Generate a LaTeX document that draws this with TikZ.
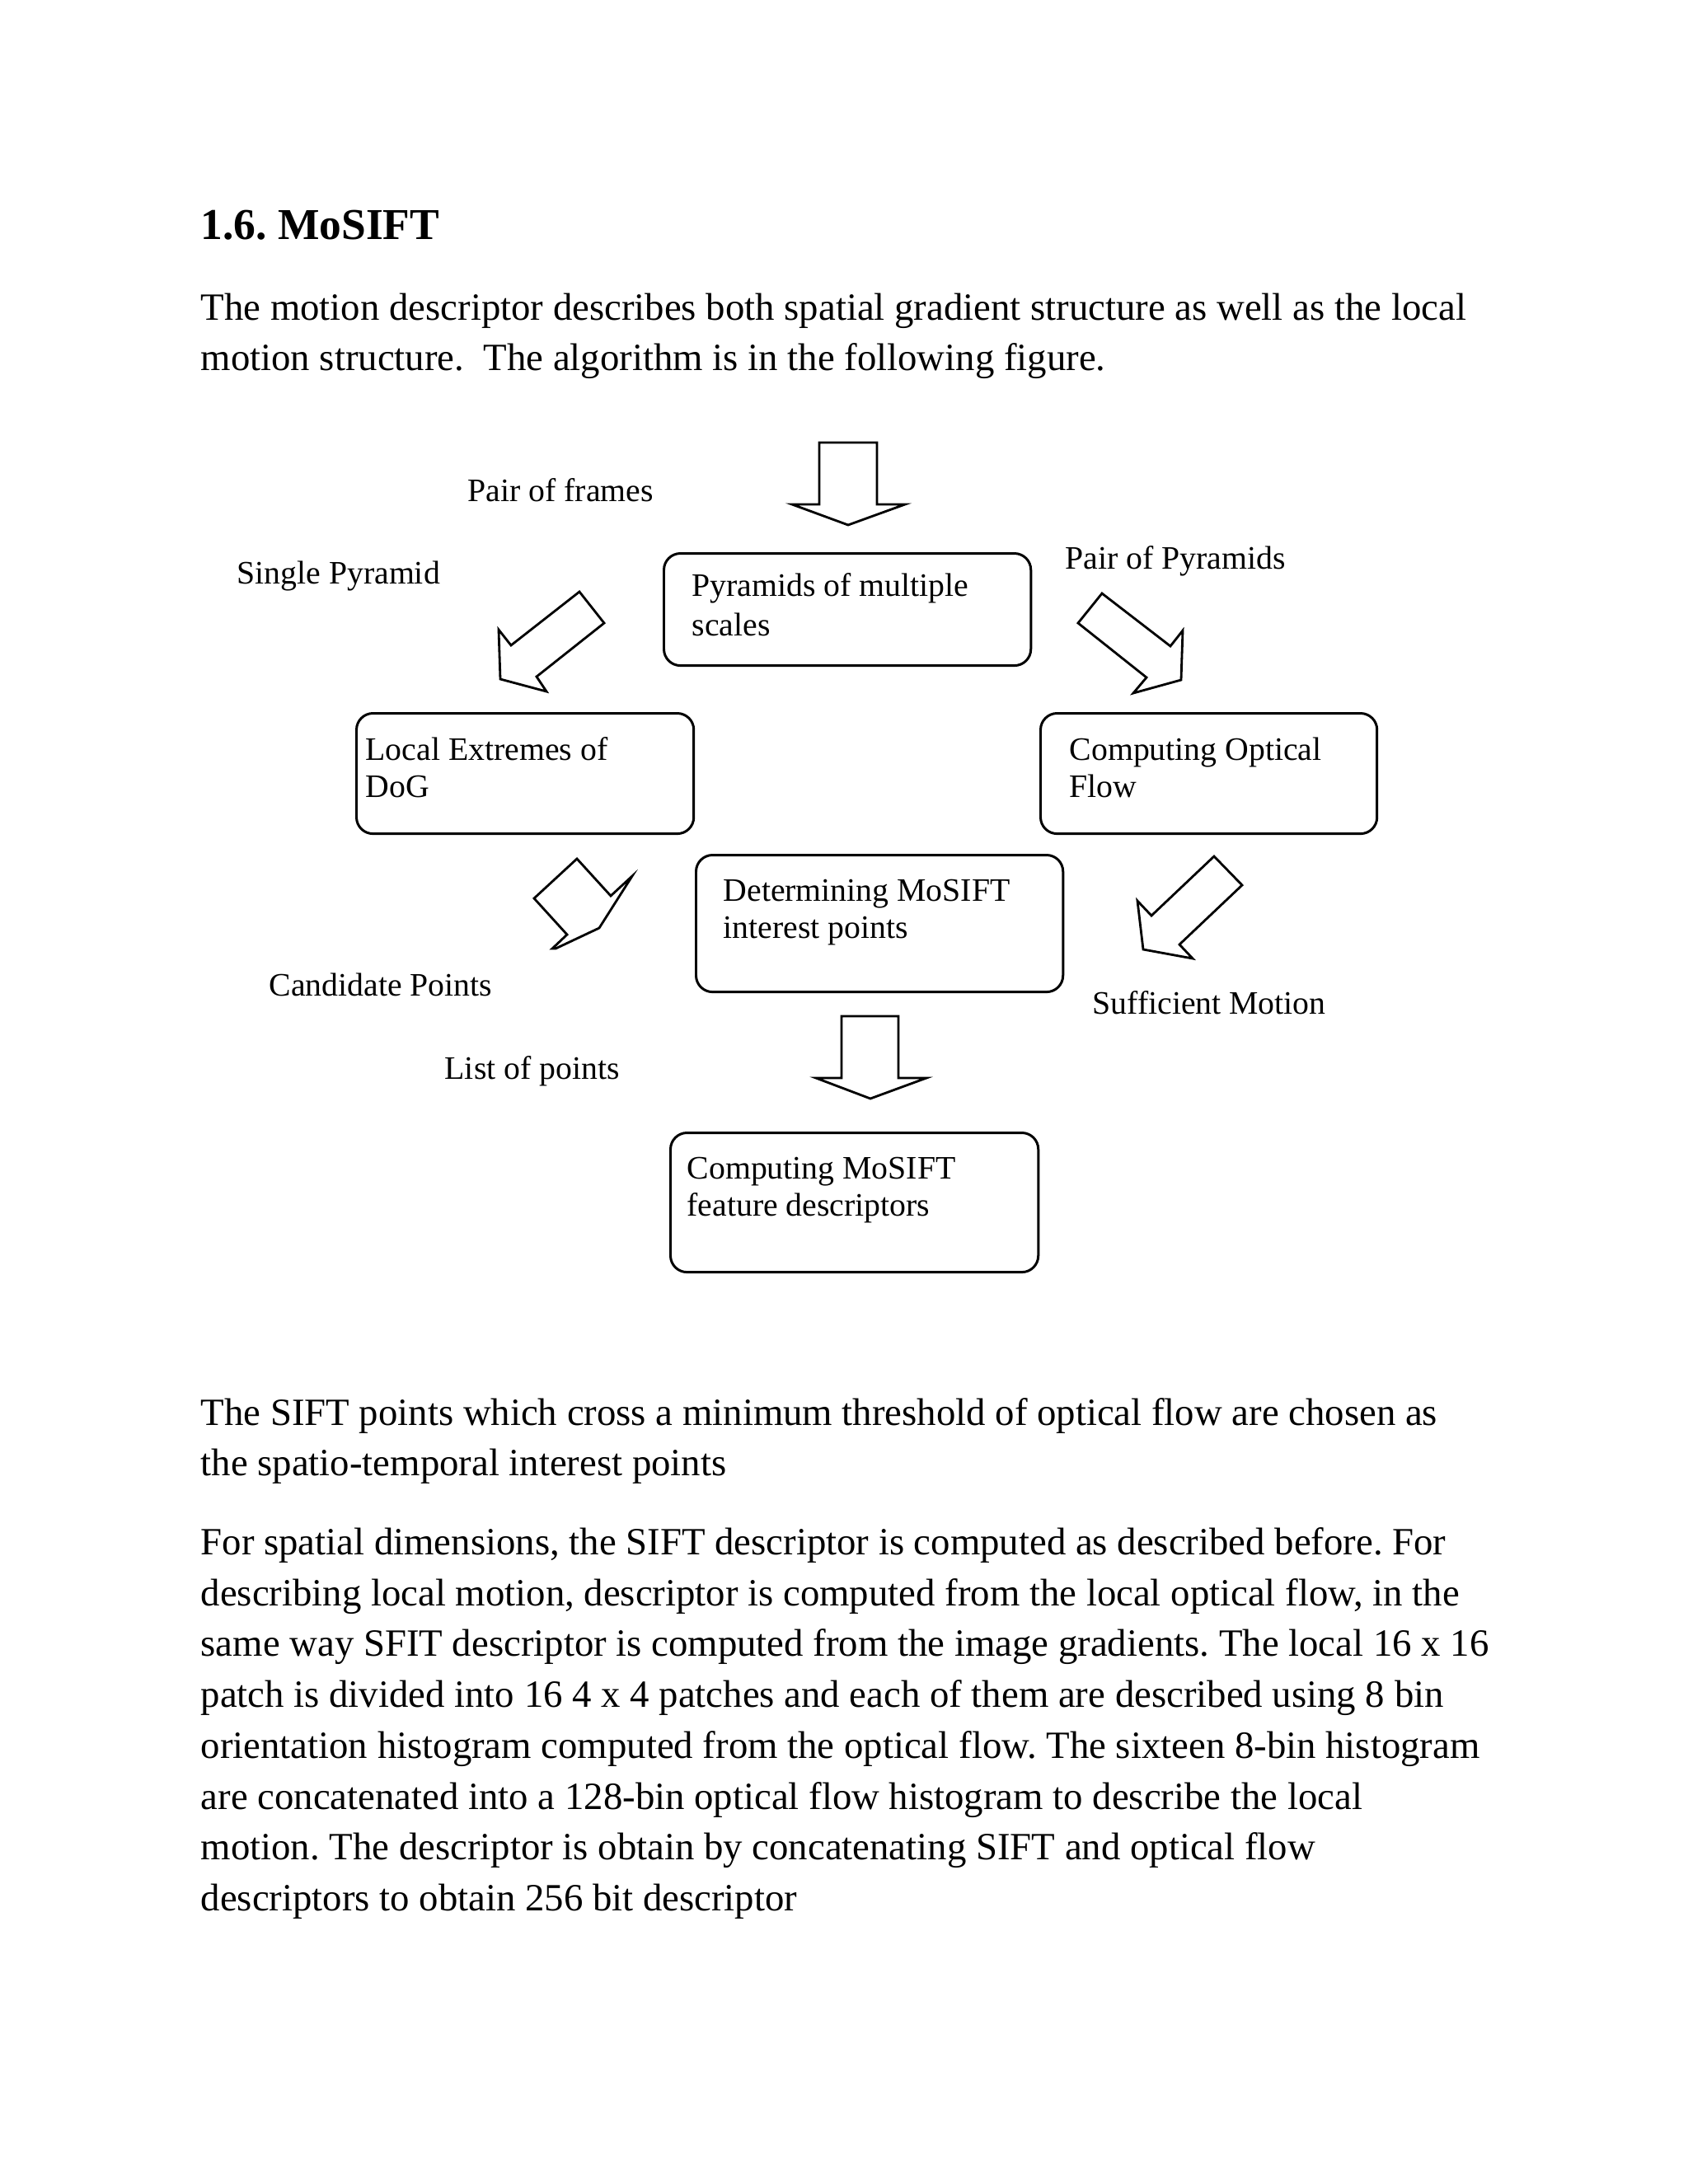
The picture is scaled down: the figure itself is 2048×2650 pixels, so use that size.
\documentclass[tikz,border=0pt]{standalone}
\usepackage{fontspec}
\setmainfont{Liberation Serif}
\usetikzlibrary{positioning}

\begin{document}
\frenchspacing
\begin{tikzpicture}[x=0.01cm,y=-0.01cm,
  stage/.style={draw=black,line width=0.85pt,rounded corners=0.2cm,anchor=north west,inner sep=0pt},
  boxtxt/.style={font=\fontsize{11.3}{13}\selectfont,anchor=base west,inner sep=0pt},
  lbl/.style={font=\fontsize{11.3}{13}\selectfont,anchor=base west,inner sep=0pt},
  body/.style={font=\fontsize{13.3}{16}\selectfont,anchor=base west,inner sep=0pt},
  blockarrow/.style={draw=black,line width=0.8pt,fill=white,line join=miter}]
\fill[white,use as bounding box] (0,0) rectangle (2048,2650);

% heading and first paragraph
\node[body,font=\fontsize{15.2}{18}\selectfont\bfseries] (title) at (243,290) {1.6. MoSIFT};
\node[body] (p1a) at (243,388) {The motion descriptor describes both spatial gradient structure as well as the local};
\node[body] (p1b) at (243,449) {motion structure.\ \ The algorithm is in the following figure.};

% boxes
\node[stage,minimum width=4.45cm,minimum height=1.36cm] (pyr) at (804,670) {};
\node[stage,minimum width=4.09cm,minimum height=1.46cm] (dog) at (431,864) {};
\node[stage,minimum width=4.08cm,minimum height=1.46cm] (flow) at (1261,864) {};
\node[stage,minimum width=4.45cm,minimum height=1.66cm] (det) at (843,1036) {};
\node[stage,minimum width=4.46cm,minimum height=1.69cm] (feat) at (812,1373) {};

\node[boxtxt] (pyrA) at (839,723) {Pyramids of multiple};
\node[boxtxt] (pyrB) at (839,771) {scales};
\node[boxtxt] (dogA) at (443,922) {Local Extremes of};
\node[boxtxt] (dogB) at (443,967) {DoG};
\node[boxtxt] (flowA) at (1297,922) {Computing Optical};
\node[boxtxt] (flowB) at (1297,967) {Flow};
\node[boxtxt] (detA) at (877,1093) {Determining MoSIFT};
\node[boxtxt] (detB) at (877,1138) {interest points};
\node[boxtxt] (featA) at (833,1430) {Computing MoSIFT};
\node[boxtxt] (featB) at (833,1475) {feature descriptors};

% labels
\node[lbl] (frames) at (567,608) {Pair of frames};
\node[lbl] (single) at (287,708) {Single Pyramid};
\node[lbl] (pairpyr) at (1292,690) {Pair of Pyramids};
\node[lbl] (cand) at (326,1208) {Candidate Points};
\node[lbl] (suff) at (1325,1230) {Sufficient Motion};
\node[lbl] (list) at (539,1309) {List of points};

% block arrows
\draw[blockarrow] (994,537) -- (1064,537) -- (1064,612) -- (1098,612) -- (1029,637) -- (961,612) -- (994,612) -- cycle;
\draw[blockarrow] (703,718) -- (620,783) -- (605,764) -- (607,824) -- (663,839) -- (651,821) -- (733,756) -- cycle;
\draw[blockarrow] (1337,720) -- (1420,784) -- (1435,765) -- (1433,825) -- (1375,841) -- (1391,822) -- (1308,756) -- cycle;
\draw[blockarrow] (700,1042) -- (741,1087) -- (767,1063) -- (727,1126) -- (674,1151) -- (670,1151) -- (688,1134) -- (648,1090) -- cycle;
\draw[blockarrow] (1473,1039) -- (1397,1111) -- (1380,1093) -- (1387,1152) -- (1447,1163) -- (1431,1146) -- (1507,1074) -- cycle;
\draw[blockarrow] (1021,1233) -- (1090,1233) -- (1090,1308) -- (1124,1308) -- (1056,1333) -- (990,1308) -- (1021,1308) -- cycle;

% text below the figure
\node[body] (p2a) at (243,1729) {The SIFT points which cross a minimum threshold of optical flow are chosen as};
\node[body] (p2b) at (243,1790) {the spatio-temporal interest points};
\node[body] (p3a) at (243,1886) {For spatial dimensions, the SIFT descriptor is computed as described before. For};
\node[body] (p3b) at (243,1948) {describing local motion, descriptor is computed from the local optical flow, in the};
\node[body] (p3c) at (243,2009) {same way SFIT descriptor is computed from the image gradients. The local 16 x 16};
\node[body] (p3d) at (243,2071) {patch is divided into 16 4 x 4 patches and each of them are described using 8 bin};
\node[body] (p3e) at (243,2133) {orientation histogram computed from the optical flow. The sixteen 8-bin histogram};
\node[body] (p3f) at (243,2195) {are concatenated into a 128-bin optical flow histogram to describe the local};
\node[body] (p3g) at (243,2256) {motion. The descriptor is obtain by concatenating SIFT and optical flow};
\node[body] (p3h) at (243,2318) {descriptors to obtain 256 bit descriptor};

\end{tikzpicture}
\end{document}
